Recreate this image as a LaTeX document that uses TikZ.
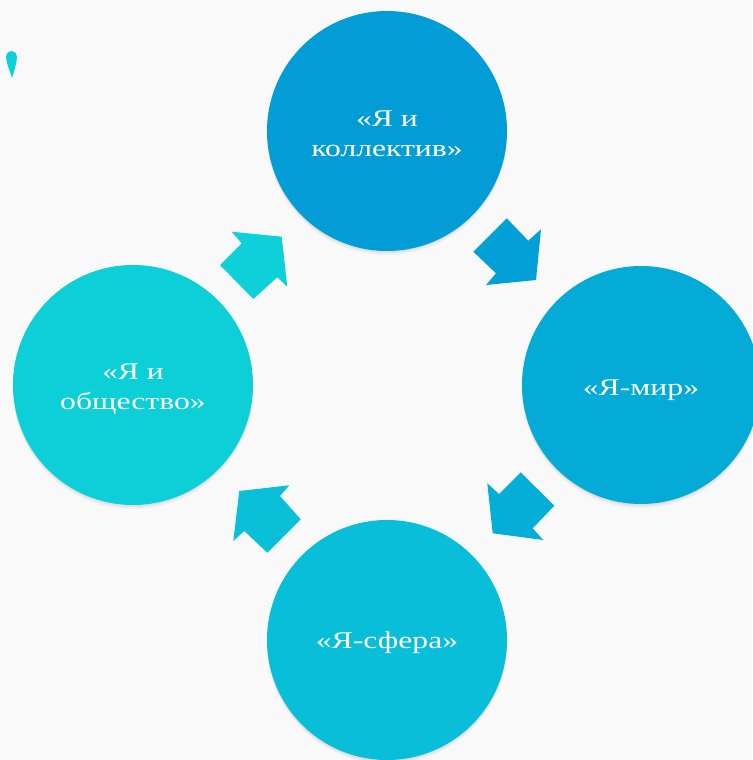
\documentclass[tikz,border=0pt]{standalone}
\usepackage{fontspec}
\setmainfont{Liberation Serif}[FakeStretch=1.32]
\definecolor{bg}{RGB}{249,249,249}
\definecolor{ctop}{RGB}{2,157,214}
\definecolor{cright}{RGB}{4,171,215}
\definecolor{cbottom}{RGB}{8,190,216}
\definecolor{cleft}{RGB}{13,207,216}
\definecolor{atr}{RGB}{2,160,214}
\definecolor{abr}{RGB}{5,174,215}
\definecolor{abl}{RGB}{9,192,216}
\definecolor{atl}{RGB}{13,208,216}
\tikzset{
  circ/.style={circle, minimum size=240pt, inner sep=0pt,
    preaction={fill=black, fill opacity=0.04, transform canvas={yshift=-4pt}},
    preaction={fill=black, fill opacity=0.06, transform canvas={yshift=-2pt}}},
  lbl/.style={text=white, anchor=base, inner sep=0pt,
    font=\fontsize{24}{30.7}\selectfont}
}
\begin{document}
\begin{tikzpicture}[x=1pt,y=-1pt]
\fill[bg] (0,0) rectangle (752,760);
\useasboundingbox (0,0) rectangle (752,760);
% teardrop mark
\fill[cleft] (12,78) .. controls (9.5,70) and (6,62) .. (6,56.5)
  arc[start angle=180, end angle=0, radius=5.5pt]
  .. controls (17,62) and (14.5,70) .. (12,78) -- cycle;
% circles
\node[circ, fill=ctop] (ctop) at (387,131) {};
\node[circ, fill=cright, minimum size=238pt] (cright) at (641,385) {};
\node[circ, fill=cbottom] (cbottom) at (387,640) {};
\node[circ, fill=cleft] (cleft) at (133,385) {};
% arrows
\fill[atr] (506.7,218.3) -- (473.3,251.7) -- (496,273.3) -- (486,285) -- (536,280) -- (541,229.3) -- (528.3,240.7) -- cycle;
\fill[abr] (520.7,472.3) -- (554.3,505.7) -- (532.7,528.3) -- (543.3,540) -- (492.7,533.3) -- (487.3,483.3) -- (499,494) -- cycle;
\fill[abl] (239.3,491) -- (289.3,485.3) -- (280,496) -- (300.7,519.3) -- (267.3,552.7) -- (244.3,531) -- (233.3,541) -- cycle;
\fill[atl] (231.7,231.7) -- (281.7,236.7) -- (287.3,286.7) -- (277.3,277.3) -- (253.3,299) -- (220,265) -- (241.7,243.3) -- cycle;
% labels
\node[lbl, align=center] (ttop) at (387,126) {\begin{tabular}[t]{@{}c@{}}«Я и\\коллектив»\end{tabular}};
\node[lbl] (tright) at (641,395) {«Я-мир»};
\node[lbl] (tbottom) at (387,648) {«Я-сфера»};
\node[lbl, align=center] (tleft) at (133,379) {\begin{tabular}[t]{@{}c@{}}«Я и\\общество»\end{tabular}};
\end{tikzpicture}
\end{document}
